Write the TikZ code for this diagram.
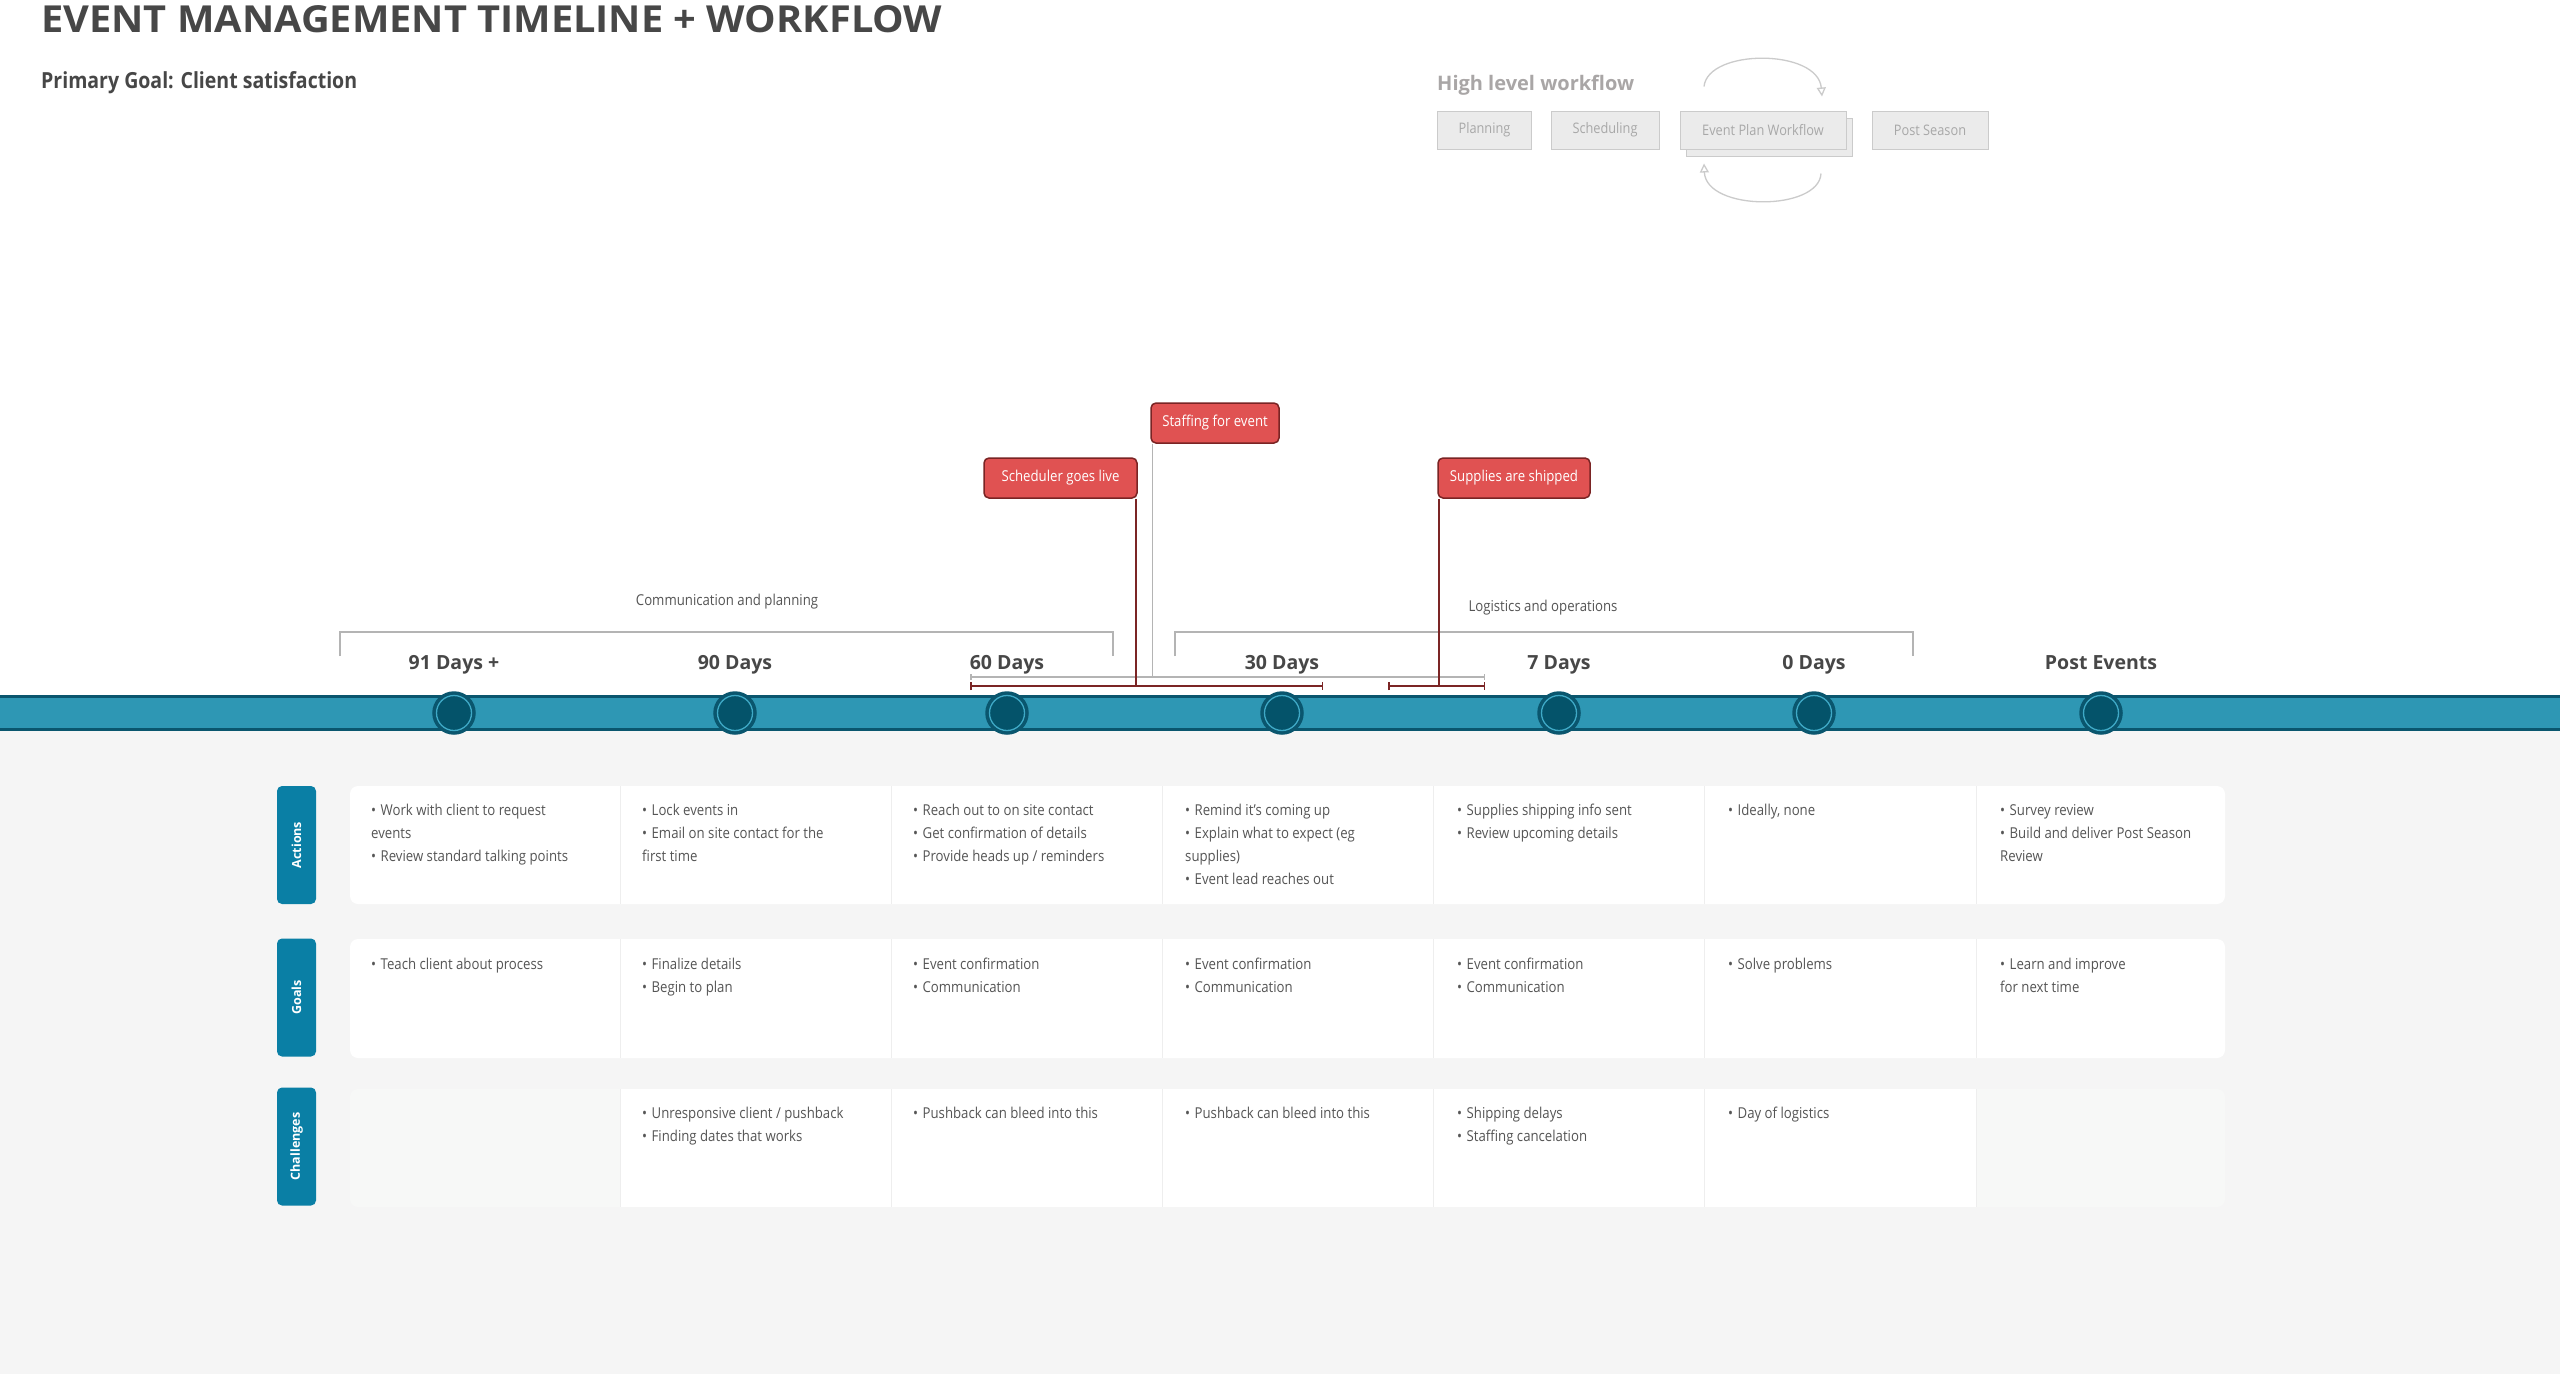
\documentclass[tikz,border=0pt]{standalone}
\usepackage{fontspec}
\setmainfont{Open Sans}[FakeStretch=0.88]
\newfontfamily\widefont{Open Sans}
\usetikzlibrary{arrows.meta,calc}
\definecolor{txt}{HTML}{474747}
\definecolor{bodytxt}{HTML}{555555}
\definecolor{bggray}{HTML}{F5F5F5}
\definecolor{bandfill}{HTML}{2E97B4}
\definecolor{bandline}{HTML}{0A566E}
\definecolor{dotfill}{HTML}{04536A}
\definecolor{dotring}{HTML}{3FA9C6}
\definecolor{tabfill}{HTML}{0A7FA5}
\definecolor{redfill}{HTML}{E05252}
\definecolor{redborder}{HTML}{7A2424}
\definecolor{redline}{HTML}{7B2525}
\definecolor{brgray}{HTML}{B4B4B4}
\definecolor{wffill}{HTML}{EBEBEB}
\definecolor{wfborder}{HTML}{CBCBCB}
\definecolor{wftext}{HTML}{A8A8A8}
\definecolor{wftitle}{HTML}{A9A6A6}
\definecolor{cellgray}{HTML}{F7F8F7}
\definecolor{divider}{HTML}{EEEEEE}
\newcommand\bu{\char"2022\hspace{4.5pt}}
\newcommand\cell[4]{%
  \foreach \celltxt [count=\ci] in {#4}
    \node[body] (#1-\ci) at (#2, #3+\ci*23.3-23.3) {\celltxt};}
\begin{document}
\begin{tikzpicture}[x=1pt,y=-1pt,
  every node/.style={inner sep=0pt},
  body/.style={font=\fontsize{15}{17}\selectfont, text=bodytxt, anchor=base west},
  daylbl/.style={font=\widefont\fontsize{19.5}{22}\selectfont\bfseries, text=txt, anchor=base},
  brlabel/.style={font=\fontsize{15}{17}\selectfont, text=bodytxt},
  redbox/.style={draw=redborder, fill=redfill, line width=1.5pt, rounded corners=5pt,
    text=white, font=\fontsize{15}{17}\selectfont, minimum height=40pt},
  wfbox/.style={draw=wfborder, fill=wffill, line width=1pt, text=wftext,
    font=\fontsize{14.5}{16}\selectfont, minimum height=38pt},
  rowtab/.style={fill=tabfill, rounded corners=5pt, rotate=90, minimum width=118pt,
    minimum height=39pt, text=white, font=\widefont\fontsize{12.5}{14}\selectfont\bfseries},
  bracket/.style={draw=brgray, line width=2pt},
  card/.style={fill=white, rounded corners=8pt},
  divline/.style={draw=divider, line width=1pt},
  wfarrow/.style={draw=wfborder, line width=1.3pt, -{Triangle[open,length=9pt,width=9pt]}},
  redsp/.style={draw=redline, line width=2.5pt, {Bar[width=8pt,line width=1.5pt]}-{Bar[width=8pt,line width=1.5pt]}},
  graysp/.style={draw=brgray, line width=1.5pt, {Bar[width=6pt]}-{Bar[width=6pt]}},
  redv/.style={draw=redline, line width=2pt},
  grayv/.style={draw=brgray, line width=1.5pt}]
\useasboundingbox (0,0) rectangle (2560,1374);
\fill[white] (0,0) rectangle (2560,697);
\fill[bggray] (0,697) rectangle (2560,1374);

% titles
\node[anchor=base west, text=txt] (title) at (41,32)
  {\resizebox{901pt}{27pt}{\widefont\bfseries EVENT MANAGEMENT TIMELINE + WORKFLOW}};
\node[anchor=base west, text=txt] (goal) at (41,88)
  {\resizebox{316pt}{!}{\bfseries Primary Goal: Client satisfaction}};

% high level workflow
\node[anchor=base west, text=wftitle, font=\widefont\fontsize{20}{22}\selectfont\bfseries] (hlw) at (1437,90) {High level workflow};
\node[wfbox, minimum width=94pt] (plan) at (1484.5,130) {Planning};
\node[wfbox, minimum width=108pt] (sched2) at (1605,130) {Scheduling};
\node[wfbox, minimum width=166pt] (evshadow) at (1769,137) {};
\node[wfbox, minimum width=166pt] (ev) at (1763,130) {Event Plan Workflow};
\node[wfbox, minimum width=116pt] (post) at (1930,130) {Post Season};
\draw[wfarrow] ($(ev.north)+(-59,-24)$) .. controls ($(ev.north)+(-55,-62)$) and ($(ev.north)+(55,-62)$) .. ($(ev.north)+(59,-14)$);
\draw[wfarrow] ($(ev.south)+(58,24)$) .. controls ($(ev.south)+(56,62)$) and ($(ev.south)+(-57,62)$) .. ($(ev.south)+(-59,14)$);

% band
\fill[bandfill] (0,695) rectangle (2560,731);
\draw[bandline, line width=3pt] (0,696.5) -- (2560,696.5);
\draw[bandline, line width=3pt] (0,729.5) -- (2560,729.5);
\foreach \x [count=\i] in {454,735,1007,1282,1559,1814,2101} {
  \node[circle, minimum size=40pt, fill=dotfill, draw=bandline, line width=3.5pt] (dot\i) at (\x,713) {};
  \draw[dotring, line width=1.3pt] (dot\i.center) circle (17.5pt);
}

% day labels
\node[daylbl] (d1) at (454,669) {91 Days +};
\node[daylbl] (d2) at (735,669) {90 Days};
\node[daylbl] (d3) at (1007,669) {60 Days};
\node[daylbl] (d4) at (1282,669) {30 Days};
\node[daylbl] (d5) at (1559,669) {7 Days};
\node[daylbl] (d6) at (1814,669) {0 Days};
\node[daylbl] (d7) at (2101,669) {Post Events};

% brackets
\draw[bracket] (340,656) -- (340,632) -- (1113,632) -- (1113,656);
\node[brlabel] (comm) at (727,602) {Communication and planning};
\draw[bracket] (1175,656) -- (1175,632) -- (1913,632) -- (1913,656);
\node[brlabel] (logi) at (1543,608) {Logistics and operations};

% milestone spans
\coordinate (g1) at (970,677);
\coordinate (g2) at (1485,677);
\coordinate (r1) at (970,686);
\coordinate (r2) at (1323,686);
\coordinate (r3) at (1388,686);
\coordinate (r4) at (1485,686);
\coordinate (sv) at (1136,686);
\coordinate (suv) at (1438.5,686);
\coordinate (stv) at (1152.5,677);
\draw[graysp] (g1) -- (g2);
\draw[redsp] (r1) -- (r2);
\draw[redsp] (r3) -- (r4);

\node[redbox, minimum width=153pt] (sched) at (1060.5,478) {Scheduler goes live};
\node[redbox, minimum width=128pt] (staff) at (1215,423) {Staffing for event};
\node[redbox, minimum width=152pt] (supp) at (1514,478) {Supplies are shipped};
\draw[redv] (sv |- sched.south) -- (sv);
\draw[redv] (suv |- supp.south) -- (suv);
\draw[grayv] (stv |- staff.south) -- (stv);

% row tabs
\node[rowtab] (tabA) at (296.5,845) {Actions};
\node[rowtab] (tabG) at (296.5,997.5) {Goals};
\node[rowtab] (tabC) at (296.5,1146.5) {Challenges};

% cards
\fill[card] (350,786) rectangle (2225,904);
\fill[card] (350,939) rectangle (2225,1058);
\fill[card, fill=cellgray] (350,1089) rectangle (2225,1207);
\fill[white] (620,1089) rectangle (1976,1207);
\foreach \c in {620,891,1162,1433,1704,1976} {
  \draw[divline] (\c,786) -- (\c,904);
  \draw[divline] (\c,939) -- (\c,1058);
  \draw[divline] (\c,1089) -- (\c,1207);
}

% actions
\cell{a1}{371}{815}{{\bu Work with client to request},{events},{\bu Review standard talking points}}
\cell{a2}{642}{815}{{\bu Lock events in},{\bu Email on site contact for the},{first time}}
\cell{a3}{913}{815}{{\bu Reach out to on site contact},{\bu Get confirmation of details},{\bu Provide heads up / reminders}}
\cell{a4}{1185}{815}{{\bu Remind it’s coming up},{\bu Explain what to expect (eg},{supplies)},{\bu Event lead reaches out}}
\cell{a5}{1457}{815}{{\bu Supplies shipping info sent},{\bu Review upcoming details}}
\cell{a6}{1728}{815}{{\bu Ideally, none}}
\cell{a7}{2000}{815}{{\bu Survey review},{\bu Build and deliver Post Season},{Review}}

% goals
\cell{g1}{371}{969}{{\bu Teach client about process}}
\cell{g2}{642}{969}{{\bu Finalize details},{\bu Begin to plan}}
\cell{g3}{913}{969}{{\bu Event confirmation},{\bu Communication}}
\cell{g4}{1185}{969}{{\bu Event confirmation},{\bu Communication}}
\cell{g5}{1457}{969}{{\bu Event confirmation},{\bu Communication}}
\cell{g6}{1728}{969}{{\bu Solve problems}}
\cell{g7}{2000}{969}{{\bu Learn and improve},{for next time}}

% challenges
\cell{c2}{642}{1118}{{\bu Unresponsive client / pushback},{\bu Finding dates that works}}
\cell{c3}{913}{1118}{{\bu Pushback can bleed into this}}
\cell{c4}{1185}{1118}{{\bu Pushback can bleed into this}}
\cell{c5}{1457}{1118}{{\bu Shipping delays},{\bu Staffing cancelation}}
\cell{c6}{1728}{1118}{{\bu Day of logistics}}
\end{tikzpicture}
\end{document}
